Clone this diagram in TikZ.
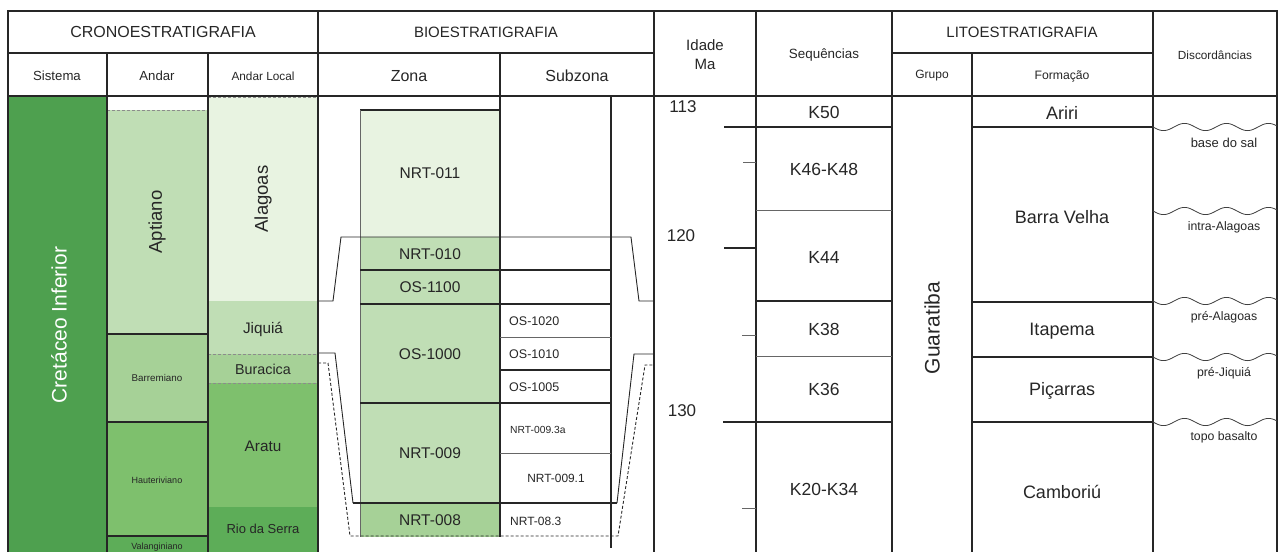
\documentclass[tikz,border=0pt]{standalone}
\usepackage{fontspec}
\setmainfont{Liberation Sans}
\definecolor{gA}{HTML}{4EA04F}
\definecolor{gB}{HTML}{5DAD58}
\definecolor{gC}{HTML}{7EC06D}
\definecolor{gD}{HTML}{A6D197}
\definecolor{gE}{HTML}{C0DEB5}
\definecolor{gF}{HTML}{E8F3E1}
\tikzset{
  fs/.style={font=\fontsize{#1}{#1}\selectfont},
  lbl/.style={inner sep=0pt, text=black!85},
  frame/.style={line width=1.3pt, draw=black!85},
  thick line/.style={line width=1.2pt, draw=black!85},
  thin line/.style={line width=0.7pt, draw=black!60},
  dash line/.style={line width=0.7pt, draw=black!45, dashed, dash pattern=on 3pt off 2pt},
  outl/.style={line width=0.9pt, draw=black!85},
  outld/.style={line width=0.9pt, draw=black!85, dash pattern=on 3pt off 2pt},
  wave/.style={line width=0.8pt, draw=black!75},
}
\begin{document}
\begin{tikzpicture}[x=1pt,y=-1pt]
\useasboundingbox (0,0) rectangle (1279,552);
% ---------- fills
\fill[gA] (8,96) rectangle (107,552);
\fill[gE] (107,110) rectangle (208,334);
\fill[gD] (107,334) rectangle (208,422);
\fill[gC] (107,422) rectangle (208,536);
\fill[gB] (107,536) rectangle (208,552);
\fill[gF] (208,97) rectangle (318,301);
\fill[gE] (208,301) rectangle (318,354);
\fill[gD] (208,354) rectangle (318,383);
\fill[gC] (208,383) rectangle (318,507);
\fill[gB] (208,507) rectangle (318,552);
\fill[gF] (360,110) rectangle (500,237);
\fill[gE] (360,237) rectangle (500,503);
\fill[gD] (360,503) rectangle (500,537);
% ---------- dashed stage limits
\draw[dash line] (107,110) -- (208,110);
\draw[dash line] (208,97) -- (318,97);
\draw[dash line] (208,354) -- (318,354);
\draw[dash line] (208,383) -- (318,383);
\draw[thick line] (107,334) -- (208,334);
\draw[thick line] (107,422) -- (208,422);
\draw[thick line] (107,536) -- (208,536);
% ---------- frame and grid
\draw[frame] (8,552) -- (8,11) -- (1277,11) -- (1277,552);
\draw[frame] (8,53) -- (654,53);
\draw[frame] (892,53) -- (1153,53);
\draw[frame] (8,96) -- (1277,96);
\draw[frame] (107,53) -- (107,552);
\draw[frame] (208,53) -- (208,552);
\draw[frame] (318,11) -- (318,552);
\draw[frame] (500,53) -- (500,537);
\draw[thick line] (611,96) -- (611,548);
\draw[frame] (654,11) -- (654,552);
\draw[frame] (756,11) -- (756,552);
\draw[frame] (892,11) -- (892,552);
\draw[frame] (972,53) -- (972,552);
\draw[frame] (1153,11) -- (1153,552);
% ---------- zones
\draw[thick line] (360,110) -- (500,110);
\draw[thin line] (360,110) -- (360,537);
\draw[thick line] (360,270) -- (611,270);
\draw[thick line] (360,304) -- (611,304);
\draw[thin line] (500,337) -- (611,337);
\draw[thick line] (500,370) -- (611,370);
\draw[thick line] (360,403) -- (611,403);
\draw[thin line] (500,453) -- (611,453);
\draw[thick line] (353,503) -- (617,503);
\draw[outl] (318,301) -- (333,301) -- (341,237) -- (631,237) -- (639,301) -- (654,301);
\draw[outl] (318,353) -- (335,353) -- (353,503);
\draw[outl] (654,354) -- (634,354) -- (617,503);
\draw[outld] (318,363) -- (328,363) -- (350,536) -- (618,536) -- (645,365) -- (654,365);
% ---------- ages and sequences
\draw[thick line] (724,127) -- (892,127);
\draw[thin line] (743,162) -- (756,162);
\draw[thin line] (756,210) -- (892,210);
\draw[thick line] (724,248) -- (756,248);
\draw[thick line] (756,301) -- (892,301);
\draw[thin line] (742,335) -- (756,335);
\draw[thin line] (756,356) -- (892,356);
\draw[thick line] (723,422) -- (892,422);
\draw[thin line] (742,508) -- (756,508);
% ---------- formations
\draw[thick line] (972,127) -- (1153,127);
\draw[thick line] (972,302) -- (1153,302);
\draw[thick line] (972,357) -- (1153,357);
\draw[thick line] (972,422) -- (1153,422);
% ---------- unconformities
\foreach \yy in {127,211,301,357,422}
  \draw[wave] plot[domain=0:124, samples=80, smooth] ({1153+\x},{\yy+3.6*sin(\x*8.5714)});
% ---------- header texts
\node[lbl, fs=16] (crono) at (163,32) {CRONOESTRATIGRAFIA};
\node[lbl, fs=15] (bio) at (486,32) {BIOESTRATIGRAFIA};
\node[lbl, fs=15] (lito) at (1022,32) {LITOESTRATIGRAFIA};
\node[lbl, fs=15, align=center] (idade) at (705,55) {Idade\\[4pt]Ma};
\node[lbl, fs=13.4] (seq) at (824,55) {Sequências};
\node[lbl, fs=11.8] (disc) at (1215,55) {Discordâncias};
\node[lbl, fs=13.2] (sist) at (57,76) {Sistema};
\node[lbl, fs=13.2] (andar) at (157,76) {Andar};
\node[lbl, fs=11.8] (andarl) at (263,76) {Andar Local};
\node[lbl, fs=16] (zona) at (409,76) {Zona};
\node[lbl, fs=16] (subz) at (577,76) {Subzona};
\node[lbl, fs=12] (grupo) at (932,76) {Grupo};
\node[lbl, fs=12.2] (form) at (1062,76) {Formação};
% ---------- chrono texts
\node[lbl, fs=21, text=white, rotate=90] (cret) at (59,325) {Cretáceo Inferior};
\node[lbl, fs=18.5, rotate=90] (apt) at (157,222) {Aptiano};
\node[lbl, fs=9.8] (barr) at (157,378) {Barremiano};
\node[lbl, fs=9] (haut) at (157,480) {Hauteriviano};
\node[lbl, fs=9] (val) at (157,547) {Valanginiano};
\node[lbl, fs=18.5, rotate=90] (alag) at (263,199) {Alagoas};
\node[lbl, fs=15.3] (jiq) at (263,329) {Jiquiá};
\node[lbl, fs=14.3] (bur) at (263,369) {Buracica};
\node[lbl, fs=15.3] (arat) at (263,446) {Aratu};
\node[lbl, fs=13] (rio) at (263,529) {Rio da Serra};
% ---------- zone texts
\node[lbl, fs=15.5] (z11) at (430,173) {NRT-011};
\node[lbl, fs=15.5] (z10) at (430,254) {NRT-010};
\node[lbl, fs=15.5] (z1100) at (430,287) {OS-1100};
\node[lbl, fs=15.5] (z1000) at (430,354) {OS-1000};
\node[lbl, fs=15.5] (z09) at (430,453) {NRT-009};
\node[lbl, fs=15.5] (z08) at (430,520) {NRT-008};
\node[lbl, fs=12.5, anchor=west] (s1020) at (509,321) {OS-1020};
\node[lbl, fs=12.5, anchor=west] (s1010) at (509,354) {OS-1010};
\node[lbl, fs=12.5, anchor=west] (s1005) at (509,387) {OS-1005};
\node[lbl, fs=10.3, anchor=west] (s093a) at (510,430) {NRT-009.3a};
\node[lbl, fs=11.9] (s091) at (556,478) {NRT-009.1};
\node[lbl, fs=12, anchor=west] (s083) at (510,521) {NRT-08.3};
% ---------- ages
\node[lbl, fs=17] (a113) at (683,107) {113};
\node[lbl, fs=17] (a120) at (681,236) {120};
\node[lbl, fs=17] (a130) at (682,411) {130};
% ---------- sequences
\node[lbl, fs=17.5] (k50) at (824,112) {K50};
\node[lbl, fs=17.5] (k4648) at (824,169) {K46-K48};
\node[lbl, fs=17.5] (k44) at (824,257) {K44};
\node[lbl, fs=17.5] (k38) at (824,329) {K38};
\node[lbl, fs=17.5] (k36) at (824,389) {K36};
\node[lbl, fs=17.5] (k2034) at (824,489) {K20-K34};
% ---------- lithostratigraphy
\node[lbl, fs=21, rotate=90] (guar) at (932,328) {Guaratiba};
\node[lbl, fs=18] (ariri) at (1062,113) {Ariri};
\node[lbl, fs=18] (bv) at (1062,217) {Barra Velha};
\node[lbl, fs=18] (ita) at (1062,331) {Itapema};
\node[lbl, fs=18] (pic) at (1062,391) {Piçarras};
\node[lbl, fs=18] (camb) at (1062,492) {Camboriú};
% ---------- unconformity labels
\node[lbl, fs=13] (d1) at (1224,143) {base do sal};
\node[lbl, fs=12.3] (d2) at (1224,227) {intra-Alagoas};
\node[lbl, fs=12.3] (d3) at (1224,317) {pré-Alagoas};
\node[lbl, fs=12.3] (d4) at (1224,373) {pré-Jiquiá};
\node[lbl, fs=12.3] (d5) at (1224,437) {topo basalto};
\end{tikzpicture}
\end{document}
